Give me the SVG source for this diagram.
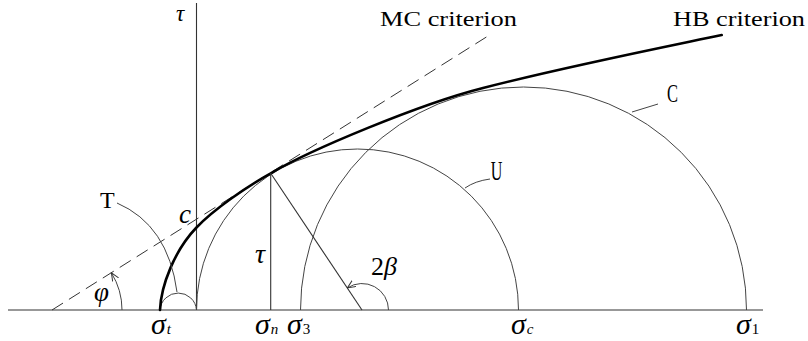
<svg xmlns="http://www.w3.org/2000/svg" width="808" height="341" viewBox="0 0 808 341" font-family="'Liberation Serif', 'Times New Roman', 'DejaVu Serif', serif">
<style>
  .ln{fill:none;stroke:#333;stroke-width:1.1}
  .ci{fill:none;stroke:#444;stroke-width:1}
  .hb{fill:none;stroke:#000;stroke-width:2.6;stroke-linecap:round}
  .mc{fill:none;stroke:#333;stroke-width:1;stroke-dasharray:13 7}
  text{font-family:'Liberation Serif','Times New Roman','DejaVu Serif',serif;fill:#000}
  .it{font-style:italic}
  .sg{font-style:italic;font-size:30px}
  .sb{font-size:15px}
</style>
<defs>
  <marker id="arr" markerWidth="9" markerHeight="8" refX="8" refY="4" orient="auto" markerUnits="userSpaceOnUse">
    <path d="M0,0.5 L8,4 L0,7.5" fill="none" stroke="#333" stroke-width="1"/>
  </marker>
</defs>
<rect width="808" height="341" fill="#fff"/>

<g id="axes">
  <path class="ln" d="M8,310 L763,310"/>
  <path class="ln" d="M196.5,3 L196.5,310"/>
  <text class="it" x="176" y="21" font-size="23">τ</text>
</g>

<g id="circle-T">
  <path class="ci" d="M160,310 A18.3,18.3 0 0 1 196.5,310"/>
  <text x="100" y="208" font-size="24">T</text>
</g>
<g id="circle-U">
  <path class="ci" d="M196.5,310 A161,161 0 0 1 518.5,310"/>
  <text x="490.7" y="180" font-size="27" textLength="11.6" lengthAdjust="spacingAndGlyphs">U</text>
</g>
<g id="circle-C">
  <path class="ci" d="M300.5,310 A223,223 0 0 1 746.5,310"/>
  <text x="667" y="102" font-size="25" textLength="11" lengthAdjust="spacingAndGlyphs">C</text>
</g>

<g id="mc-criterion">
  <path class="mc" d="M52,310 L488,36"/>
  <text x="380" y="26" font-size="20" textLength="137" lengthAdjust="spacingAndGlyphs">MC criterion</text>
  <text class="it" x="179" y="223" font-size="27">c</text>
</g>

<g id="hb-criterion">
  <path class="hb" d="M160,310 C161,285 175,250 196,228 C214,209 248,186 270.7,173.3 C310,150 420,104 483,88 C560,68 650,50 721.7,35"/>
  <text x="673" y="26" font-size="20" textLength="132" lengthAdjust="spacingAndGlyphs">HB criterion</text>
</g>

<g id="connectors">
  <path class="ln" d="M270.7,173.3 L270.7,310"/>
  <path class="ln" d="M270.7,173.3 L362,310"/>
  <path class="ci" d="M117,203 Q168,225 177,292"/>
  <path class="ci" d="M490,179 Q475,181 465,188"/>
  <path class="ci" d="M658,104 L632,112"/>
  <path class="ci" d="M122,310 A70,70 0 0 0 111.4,272.9" marker-end="url(#arr)"/>
  <path class="ci" d="M388.5,310 A26.5,26.5 0 0 0 347.4,287.9" marker-end="url(#arr)"/>
</g>

<g id="labels">
  <text class="it" x="255" y="263" font-size="28">τ</text>
  <text class="it" x="94" y="301" font-size="27">φ</text>
  <text x="371" y="275" font-size="26">2<tspan class="it">β</tspan></text>
  <text class="sg" x="151" y="334">σ<tspan class="sb" dx="1">t</tspan></text>
  <text class="sg" x="255" y="334">σ<tspan class="sb" dx="1">n</tspan></text>
  <text class="sg" x="287" y="334">σ<tspan class="sb" font-style="normal" dx="1">3</tspan></text>
  <text class="sg" x="511" y="334">σ<tspan class="sb" dx="1">c</tspan></text>
  <text class="sg" x="736" y="334">σ<tspan class="sb" font-style="normal" dx="1">1</tspan></text>
</g>
</svg>
